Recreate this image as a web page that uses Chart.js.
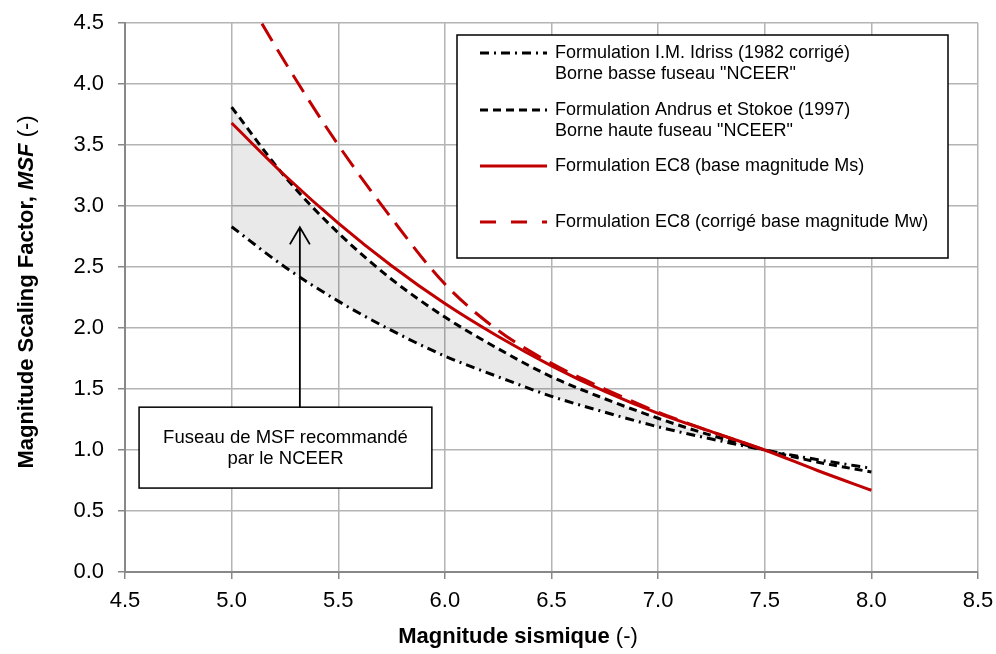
<!DOCTYPE html>
<html>
<head>
<meta charset="utf-8">
<script src="https://cdn.jsdelivr.net/npm/chart.js@4.4.1/dist/chart.umd.min.js"></script>
<style>
  html, body { margin: 0; padding: 0; background: #fff; }
  #wrap { width: 996px; height: 654px; position: relative; }
</style>
</head>
<body>
<div id="wrap"><canvas id="c" width="996" height="654"></canvas></div>
<script>
// ---- Data ----
const magnitudes = [5.0, 5.25, 5.5, 5.75, 6.0, 6.25, 6.5, 6.75, 7.0, 7.25, 7.5, 7.75, 8.0];
const msfIdriss  = [2.83, 2.50, 2.22, 1.98, 1.77, 1.60, 1.44, 1.31, 1.19, 1.09, 1.00, 0.92, 0.85];
const msfAndrus  = [3.81, 3.24, 2.78, 2.40, 2.09, 1.83, 1.60, 1.42, 1.26, 1.12, 1.00, 0.90, 0.82];
const msfEc8Ms   = [3.68, 3.25, 2.86, 2.51, 2.20, 1.93, 1.69, 1.48, 1.30, 1.15, 1.00, 0.83, 0.67];
const msfEc8Mw   = [4.92, 4.18, 3.50, 2.90, 2.36, 1.98, 1.71, 1.50, 1.31, 1.15, 1.00, null, null];

const xTicks = [4.5, 5.0, 5.5, 6.0, 6.5, 7.0, 7.5, 8.0, 8.5];
const yTicks = [0.0, 0.5, 1.0, 1.5, 2.0, 2.5, 3.0, 3.5, 4.0, 4.5];

const seriesLabels = [
  ['Formulation I.M. Idriss (1982 corrigé)', 'Borne basse fuseau "NCEER"'],
  ['Formulation Andrus et Stokoe (1997)', 'Borne haute fuseau "NCEER"'],
  ['Formulation EC8 (base magnitude Ms)'],
  ['Formulation EC8 (corrigé base magnitude Mw)']
];
const annotationLines = ['Fuseau de MSF recommandé', 'par le NCEER'];
const xTitle = [['Magnitude sismique', 'bold'], [' (-)', 'normal']];
const yTitle = [['Magnitude Scaling Factor, ', 'bold'], ['MSF', 'italic bold'], [' (-)', 'normal']];

// ---- Styles ----
const RED = '#c00000';
const FONT = '"Liberation Sans", Arial, sans-serif';
const styles = [
  { color: '#000', dash: [9, 5, 2, 5], width: 3 },
  { color: '#000', dash: [8, 5], width: 3 },
  { color: RED, dash: [], width: 3 },
  { color: RED, dash: [20, 10], width: 3 }
];

function pts(ys) {
  const out = [];
  magnitudes.forEach((m, i) => { if (ys[i] !== null) out.push({ x: m, y: ys[i] }); });
  return out;
}

const datasets = [msfIdriss, msfAndrus, msfEc8Ms, msfEc8Mw].map((ys, i) => ({
  label: seriesLabels[i].join(' '),
  data: pts(ys),
  borderColor: styles[i].color,
  borderWidth: styles[i].width,
  borderDash: styles[i].dash,
  pointRadius: 0,
  cubicInterpolationMode: 'monotone',
  fill: false,
  order: 4 - i
}));
// shaded NCEER band between Andrus (upper) and Idriss (lower)
datasets[1].fill = { target: 0, above: 'rgba(0,0,0,0.085)', below: 'rgba(0,0,0,0)' };

function drawMixed(ctx, parts, size, x, y) {
  let total = 0;
  const widths = parts.map(([t, s]) => { ctx.font = s + ' ' + size + 'px ' + FONT; const w = ctx.measureText(t).width; total += w; return w; });
  let cx = x - total / 2;
  ctx.textAlign = 'left';
  ctx.textBaseline = 'middle';
  parts.forEach(([t, s], i) => { ctx.font = s + ' ' + size + 'px ' + FONT; ctx.fillText(t, cx, y); cx += widths[i]; });
}

const overlay = {
  id: 'overlay',
  afterDraw(chart) {
    const ctx = chart.ctx;
    const xs = chart.scales.x, ys = chart.scales.y;
    ctx.save();
    ctx.fillStyle = '#000';
    // axis titles
    drawMixed(ctx, xTitle, 22, 518, 637);
    ctx.save();
    ctx.translate(27, 292);
    ctx.rotate(-Math.PI / 2);
    drawMixed(ctx, yTitle, 22, 0, 0);
    ctx.restore();

    // legend box
    const lx0 = 457, ly0 = 35, lx1 = 948, ly1 = 258;
    ctx.fillStyle = '#fff';
    ctx.fillRect(lx0, ly0, lx1 - lx0, ly1 - ly0);
    ctx.strokeStyle = '#000';
    ctx.lineWidth = 1.5;
    ctx.setLineDash([]);
    ctx.strokeRect(lx0, ly0, lx1 - lx0, ly1 - ly0);
    const rowsY = [53, 110, 166, 222];
    ctx.font = '18px ' + FONT;
    ctx.textAlign = 'left';
    ctx.textBaseline = 'middle';
    seriesLabels.forEach((lines, i) => {
      ctx.strokeStyle = styles[i].color;
      ctx.lineWidth = 3;
      ctx.setLineDash(styles[i].dash.length ? (i === 3 ? [16, 15] : styles[i].dash) : []);
      ctx.beginPath();
      ctx.moveTo(480, rowsY[i]);
      ctx.lineTo(547, rowsY[i]);
      ctx.stroke();
      ctx.setLineDash([]);
      ctx.fillStyle = '#000';
      lines.forEach((t, j) => ctx.fillText(t, 555, rowsY[i] + j * 21));
    });

    // annotation box + arrow (anchored to data coordinates)
    const bx0 = xs.getPixelForValue(4.566), bx1 = xs.getPixelForValue(5.939);
    const by0 = ys.getPixelForValue(1.351), by1 = ys.getPixelForValue(0.688);
    ctx.fillStyle = '#fff';
    ctx.fillRect(bx0, by0, bx1 - bx0, by1 - by0);
    ctx.strokeStyle = '#000';
    ctx.lineWidth = 1.5;
    ctx.strokeRect(bx0, by0, bx1 - bx0, by1 - by0);
    ctx.fillStyle = '#000';
    ctx.font = '18.5px ' + FONT;
    ctx.textAlign = 'center';
    const bcx = (bx0 + bx1) / 2;
    ctx.fillText(annotationLines[0], bcx, by0 + 31);
    ctx.fillText(annotationLines[1], bcx, by0 + 52);
    const ax = xs.getPixelForValue(5.32), ay = ys.getPixelForValue(2.825);
    ctx.lineWidth = 1.8;
    ctx.beginPath();
    ctx.moveTo(ax, by0);
    ctx.lineTo(ax, ay);
    ctx.moveTo(ax - 10, ay + 17);
    ctx.lineTo(ax, ay);
    ctx.lineTo(ax + 10, ay + 17);
    ctx.stroke();
    ctx.restore();
  }
};

new Chart(document.getElementById('c'), {
  type: 'line',
  data: { datasets },
  options: {
    responsive: false,
    animation: false,
    layout: { padding: { top: 23, right: 18, left: 0, bottom: 0 } },
    plugins: {
      legend: { display: false },
      tooltip: { enabled: false },
      filler: { drawTime: 'beforeDatasetsDraw' }
    },
    scales: {
      x: {
        type: 'linear', min: 4.5, max: 8.5,
        afterBuildTicks: s => { s.ticks = xTicks.map(v => ({ value: v })); },
        afterFit: s => { s.height = 82; s.paddingRight = 0; s.paddingLeft = 0; },
        ticks: { callback: v => v.toFixed(1), color: '#000', font: { size: 22, family: FONT }, padding: 9, maxRotation: 0, autoSkip: false },
        grid: { color: '#b4b4b4', lineWidth: 1.5, tickLength: 7, tickColor: '#888' },
        border: { color: '#888', width: 2 }
      },
      y: {
        type: 'linear', min: 0, max: 4.5,
        afterBuildTicks: s => { s.ticks = yTicks.map(v => ({ value: v })); },
        afterFit: s => { s.width = 125; s.paddingTop = 0; s.paddingBottom = 0; },
        ticks: { callback: v => v.toFixed(1), color: '#000', font: { size: 22, family: FONT }, padding: 14, autoSkip: false },
        grid: { color: '#b4b4b4', lineWidth: 1.5, tickLength: 7, tickColor: '#888' },
        border: { color: '#888', width: 2 }
      }
    }
  },
  plugins: [overlay]
});
</script>
</body>
</html>
